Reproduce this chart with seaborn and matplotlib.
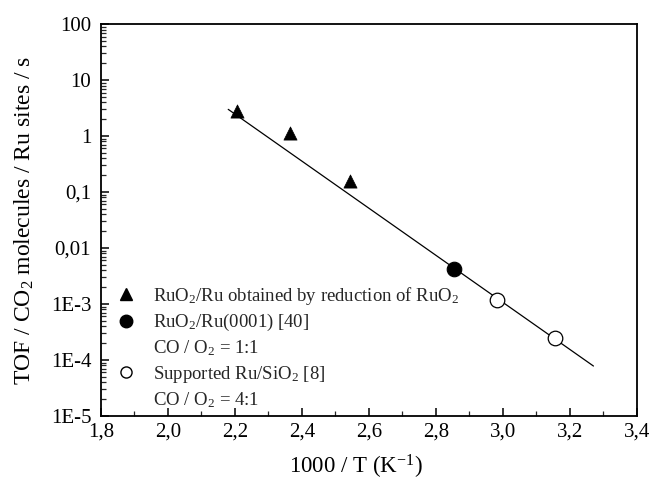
import matplotlib
matplotlib.use("Agg")
import matplotlib.pyplot as plt
import seaborn as sns
import numpy as np
import pandas as pd
from matplotlib.lines import Line2D
from matplotlib.ticker import FixedLocator, FixedFormatter, LogLocator, MultipleLocator, NullFormatter

# Data
tri_x = [2.206, 2.364, 2.543]
tri_y = [2.85, 1.12, 0.16]
fil_x = [2.854]
fil_y = [0.0042]
open_x = [2.982, 3.155]
open_y = [0.00118, 0.000247]
fit_x = [2.18, 3.27]
fit_y = [3.0, 7.8e-5]

xticks = [1.8, 2.0, 2.2, 2.4, 2.6, 2.8, 3.0, 3.2, 3.4]
xticklabels = ["1,8", "2,0", "2,2", "2,4", "2,6", "2,8", "3,0", "3,2", "3,4"]
yticks = [1e-5, 1e-4, 1e-3, 1e-2, 1e-1, 1, 10, 100]
yticklabels = ["1E-5", "1E-4", "1E-3", "0,01", "0,1", "1", "10", "100"]

legend_labels = ["RuO$_2$/Ru obtained by reduction of RuO$_2$",
                 "RuO$_2$/Ru(0001) [40]",
                 "CO / O$_2$ = 1:1",
                 "Supported Ru/SiO$_2$ [8]",
                 "CO / O$_2$ = 4:1"]

sns.set_theme(style="ticks")
plt.rcParams['font.family'] = ['Liberation Serif', 'DejaVu Serif']
plt.rcParams['mathtext.fontset'] = 'custom'
plt.rcParams['mathtext.rm'] = 'Liberation Serif'
plt.rcParams['mathtext.it'] = 'Liberation Serif:italic'

fig = plt.figure(figsize=(6.51, 4.82), dpi=100)
ax = fig.add_axes([0.155, 0.137, 0.8235, 0.813])

sns.lineplot(x=fit_x, y=fit_y, ax=ax, color="black", linewidth=0.9)
sns.scatterplot(x=tri_x, y=tri_y, ax=ax, marker="^", s=90, color="black", edgecolor="black", linewidth=0.5)
sns.scatterplot(x=fil_x, y=fil_y, ax=ax, marker="o", s=110, color="black", edgecolor="black", linewidth=0.8)
sns.scatterplot(x=open_x, y=open_y, ax=ax, marker="o", s=110, color="white", edgecolor="black", linewidth=0.9, zorder=3)

ax.set_yscale("log")
ax.set_xlim(1.8, 3.4)
ax.set_ylim(1e-5, 100)
ax.xaxis.set_major_locator(FixedLocator(xticks))
ax.xaxis.set_major_formatter(FixedFormatter(xticklabels))
ax.xaxis.set_minor_locator(MultipleLocator(0.1))
ax.yaxis.set_major_locator(FixedLocator(yticks))
ax.yaxis.set_major_formatter(FixedFormatter(yticklabels))
ax.yaxis.set_minor_locator(LogLocator(base=10, subs=np.arange(2, 10), numticks=20))
ax.yaxis.set_minor_formatter(NullFormatter())

ax.tick_params(axis="both", which="major", direction="in", length=6, width=1.1, labelsize=15, colors="black")
ax.tick_params(axis="y", which="major", pad=7)
ax.tick_params(axis="x", which="major", pad=5)
ax.tick_params(axis="both", which="minor", direction="in", length=3.5, width=0.9)
ax.tick_params(top=False, right=False, which="both")
for s in ax.spines.values():
    s.set_linewidth(1.3)
    s.set_color("black")

ax.set_xlabel("1000 / T (K$^{-1}$)", fontsize=16.5, color="black")
ax.xaxis.set_label_coords(0.476, -0.095)
ax.set_ylabel("TOF / CO$_2$ molecules / Ru sites / s", fontsize=17, color="black")
ax.yaxis.set_label_coords(-0.122, 0.5)

handles = [
    Line2D([], [], marker="^", color="black", linestyle="none", markersize=9),
    Line2D([], [], marker="o", color="black", linestyle="none", markersize=9),
    Line2D([], [], linestyle="none"),
    Line2D([], [], marker="o", markerfacecolor="white", markeredgecolor="black", linestyle="none", markersize=8),
    Line2D([], [], linestyle="none"),
]
leg = ax.legend(handles, legend_labels, loc="lower left", bbox_to_anchor=(0.002, -0.022),
                frameon=False, fontsize=13.5, handlelength=1.0, handletextpad=0.9,
                labelspacing=0.28, borderaxespad=0.4)

fig.savefig("out.png", dpi=100)
